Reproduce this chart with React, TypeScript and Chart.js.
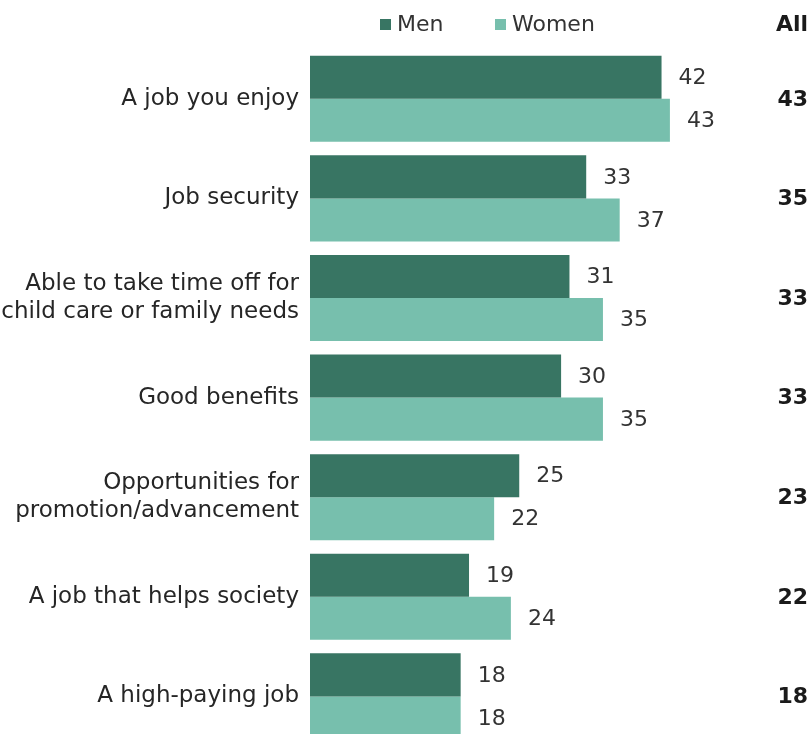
import React, { useEffect, useRef } from "react";
import { Chart, registerables } from "chart.js";

Chart.register(...registerables);

const categories: (string | string[])[] = [
  "A job you enjoy",
  "Job security",
  ["Able to take time off for", "child care or family needs"],
  "Good benefits",
  ["Opportunities for", "promotion/advancement"],
  "A job that helps society",
  "A high-paying job",
];
const men = [42, 33, 31, 30, 25, 19, 18];
const women = [43, 37, 35, 35, 22, 24, 18];
const all = [43, 35, 33, 33, 23, 22, 18];
const seriesNames = ["Men", "Women"];
const allHeader = "All";

const MEN_COLOR = "#387563";
const WOMEN_COLOR = "#77bfad";
const FONT = "DejaVu Sans";

const overlayPlugin = {
  id: "overlay",
  afterDraw(chart: any) {
    const ctx = chart.ctx;
    ctx.save();
    // value labels
    ctx.font = `22px "${FONT}"`;
    ctx.fillStyle = "#333333";
    ctx.textAlign = "left";
    ctx.textBaseline = "middle";
    chart.data.datasets.forEach((ds: any, di: number) => {
      const meta = chart.getDatasetMeta(di);
      meta.data.forEach((bar: any, i: number) => {
        ctx.fillText(String(ds.data[i]), bar.x + 17, bar.y + 1);
      });
    });
    // All column
    const yScale = chart.scales.y;
    ctx.font = `bold 22px "${FONT}"`;
    ctx.fillStyle = "#1a1a1a";
    ctx.textAlign = "right";
    all.forEach((v, i) => {
      ctx.fillText(String(v), 808, yScale.getPixelForValue(i) + 1);
    });
    ctx.fillText(allHeader, 808, 25);
    // legend
    ctx.font = `22px "${FONT}"`;
    ctx.textAlign = "left";
    const items = [
      { x: 380, color: MEN_COLOR, text: seriesNames[0] },
      { x: 495, color: WOMEN_COLOR, text: seriesNames[1] },
    ];
    items.forEach((it) => {
      ctx.fillStyle = it.color;
      ctx.fillRect(it.x, 19, 11, 11);
      ctx.fillStyle = "#333333";
      ctx.fillText(it.text, it.x + 17, 25);
    });
    ctx.restore();
  },
};

export default function App() {
  const ref = useRef<HTMLCanvasElement | null>(null);
  useEffect(() => {
    if (!ref.current) return;
    const chart = new Chart(ref.current, {
      type: "bar",
      data: {
        labels: categories,
        datasets: [
          {
            label: seriesNames[0],
            data: men,
            backgroundColor: MEN_COLOR,
            borderWidth: 0,
            categoryPercentage: 0.864,
            barPercentage: 1,
          },
          {
            label: seriesNames[1],
            data: women,
            backgroundColor: WOMEN_COLOR,
            borderWidth: 0,
            categoryPercentage: 0.864,
            barPercentage: 1,
          },
        ],
      },
      options: {
        indexAxis: "y",
        animation: false,
        responsive: false,
        maintainAspectRatio: false,
        layout: { padding: { top: 49, right: 82.5, bottom: 0, left: 0 } },
        plugins: {
          legend: { display: false },
          tooltip: { enabled: false },
        },
        scales: {
          x: {
            display: false,
            min: 0,
            max: 50,
          },
          y: {
            grid: { display: false, drawTicks: false },
            border: { display: false },
            afterFit: (scale: any) => {
              scale.width = 310;
            },
            ticks: {
              padding: 11,
              color: "#262626",
              font: { family: FONT, size: 23 },
            },
          },
        },
      },
      plugins: [overlayPlugin],
    });
    return () => chart.destroy();
  }, []);
  return (
    <div
      style={{
        position: "fixed",
        top: 0,
        left: 0,
        width: 811,
        height: 734,
        overflow: "hidden",
        background: "#ffffff",
      }}
    >
      <canvas ref={ref} width={811} height={771} style={{ display: "block" }} />
    </div>
  );
}
